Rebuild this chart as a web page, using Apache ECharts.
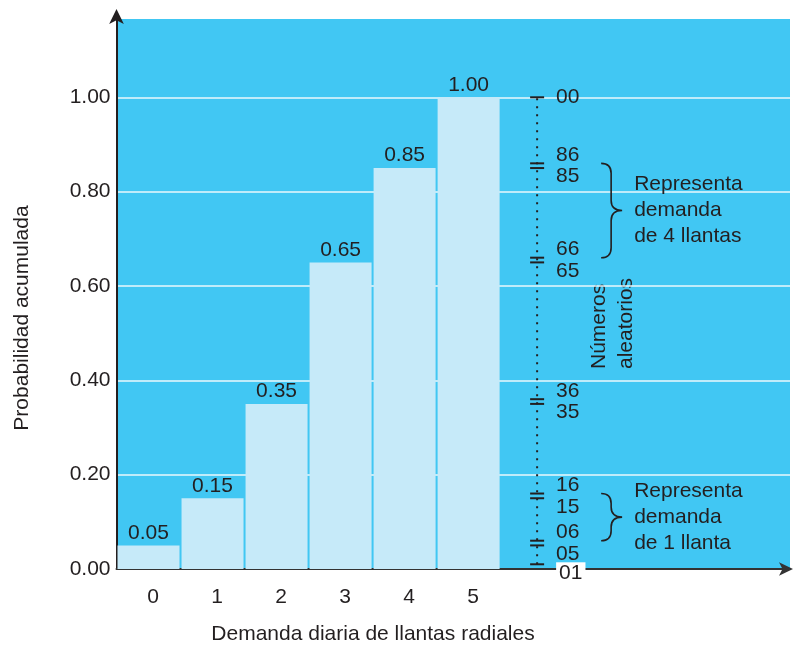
<!DOCTYPE html>
<html><head><meta charset="utf-8">
<script src="https://cdn.jsdelivr.net/npm/echarts@6/dist/echarts.min.js"></script>
<style>html,body{margin:0;padding:0;background:#fff}#c{width:795px;height:650px}</style>
</head><body><div id="c"></div>
<script>
// ---- data ----
const categories = [0, 1, 2, 3, 4, 5];
const cumulativeProb = [0.05, 0.15, 0.35, 0.65, 0.85, 1.00];
const barLabels = ['0.05', '0.15', '0.35', '0.65', '0.85', '1.00'];
const randomBounds = [1.00, 0.86, 0.85, 0.66, 0.65, 0.36, 0.35, 0.16, 0.15, 0.06, 0.05, 0.01];
const randomLabels = ['00', '86', '85', '66', '65', '36', '35', '16', '15', '06', '05', '01'];
const braceRanges = [[0.86, 0.66], [0.16, 0.06]];
const braceTexts = ['Representa\ndemanda\nde 4 llantas', 'Representa\ndemanda\nde 1 llanta'];
const yTitle = 'Probabilidad acumulada';
const xTitle = 'Demanda diaria de llantas radiales';
const scaleTitle = 'Números\naleatorios';

// ---- style / layout ----
const FONT = '"Liberation Sans", Arial, Helvetica, sans-serif';
const FS = 21;
const INK = '#231f20';
const BLUE = '#41c7f3';
const BAR = '#c6eaf9';
const SCALE_X = 6.07;
const BRACE_X = 7.07;
const LAST = randomBounds.length - 1;

const chart = echarts.init(document.getElementById('c'));
chart.setOption({
  animation: false,
  grid: { left: 116.5, right: 5, top: 19, bottom: 81, show: true, backgroundColor: BLUE, borderWidth: 0 },
  xAxis: {
    type: 'value', min: -0.5, max: 10.02, interval: 0.5,
    axisLine: { show: true, onZero: false, lineStyle: { color: '#333', width: 2 }, symbol: ['none', 'arrow'], symbolSize: [10, 14], symbolOffset: [0, 3] },
    axisTick: { show: false },
    splitLine: { show: false },
    axisLabel: {
      margin: 18, fontSize: FS, fontFamily: FONT, color: INK, padding: [0, 0, 0, 9],
      formatter: v => (Math.abs(v - Math.round(v)) < 1e-9 && categories.indexOf(Math.round(v)) >= 0) ? String(Math.round(v)) : ''
    }
  },
  yAxis: {
    type: 'value', min: 0, max: 1.166, interval: 0.2,
    axisLine: { show: true, onZero: false, lineStyle: { color: INK, width: 2 }, symbol: ['none', 'arrow'], symbolSize: [11, 15], symbolOffset: [0, 10] },
    axisTick: { show: false },
    splitLine: { show: true, showMaxLine: false, lineStyle: { color: '#eaf8fd', width: 1.5 } },
    axisLabel: { margin: 6, fontSize: FS, fontFamily: FONT, color: INK, showMaxLabel: false, formatter: v => v.toFixed(2) }
  },
  graphic: [
    { type: 'text', x: 22, y: 318, rotation: Math.PI / 2, style: { text: yTitle, font: FS + 'px ' + FONT, fill: INK, align: 'center', verticalAlign: 'middle' } },
    { type: 'text', x: 373, y: 634, style: { text: xTitle, font: FS + 'px ' + FONT, fill: INK, align: 'center', verticalAlign: 'middle' } },
    { type: 'text', x: 613, y: 369, rotation: Math.PI / 2, style: { text: scaleTitle, font: FS + 'px ' + FONT, fill: INK, align: 'left', verticalAlign: 'middle', lineHeight: 27 } }
  ],
  series: [
    {
      type: 'bar', barWidth: 62,
      data: categories.map((c, i) => [c, cumulativeProb[i]]),
      itemStyle: { color: BAR },
      label: { show: true, position: 'top', distance: 2, fontSize: FS, fontFamily: FONT, color: INK, formatter: p => barLabels[p.dataIndex] },
      emphasis: { disabled: true }
    },
    {
      type: 'line', symbol: 'none', silent: true,
      data: [[SCALE_X, randomBounds[LAST]], [SCALE_X, randomBounds[0]]],
      lineStyle: { color: INK, width: 2, type: [2, 6], cap: 'butt' }
    },
    {
      type: 'scatter', symbol: 'rect', symbolSize: [14, 2], silent: true,
      itemStyle: { color: INK, opacity: 1 },
      data: randomBounds.map((v, i) => ({
        value: [SCALE_X, v],
        label: {
          offset: [0, i === 0 ? 0 : (i === LAST ? 8.5 : (i % 2 ? -8 : 8.5))],
          backgroundColor: i === LAST ? '#fff' : 'transparent',
          padding: i === LAST ? [0, 3] : 0
        }
      })),
      label: { show: true, position: 'right', distance: 12, fontSize: FS, fontFamily: FONT, color: INK, formatter: p => randomLabels[p.dataIndex] },
      emphasis: { disabled: true }
    },
    {
      type: 'custom', silent: true,
      data: braceRanges.map((r, i) => [BRACE_X, r[0], r[1], i]),
      renderItem: (params, api) => {
        const top = api.coord([api.value(0), api.value(1)]);
        const bot = api.coord([api.value(0), api.value(2)]);
        const x0 = top[0], y1 = top[1], y2 = bot[1], mid = (y1 + y2) / 2;
        const xm = x0 + 10, xt = x0 + 21, r = 10;
        const d = `M${x0} ${y1} Q${xm} ${y1} ${xm} ${y1 + r} L${xm} ${mid - r} Q${xm} ${mid} ${xt} ${mid} Q${xm} ${mid} ${xm} ${mid + r} L${xm} ${y2 - r} Q${xm} ${y2} ${x0} ${y2}`;
        return {
          type: 'group', children: [
            { type: 'path', shape: { pathData: d }, style: { fill: 'none', stroke: INK, lineWidth: 1.6 } },
            { type: 'text', x: xt + 12, y: mid, style: { text: braceTexts[api.value(3)], font: FS + 'px ' + FONT, fill: INK, align: 'left', verticalAlign: 'middle', lineHeight: 26 } }
          ]
        };
      }
    }
  ]
});
</script></body></html>
